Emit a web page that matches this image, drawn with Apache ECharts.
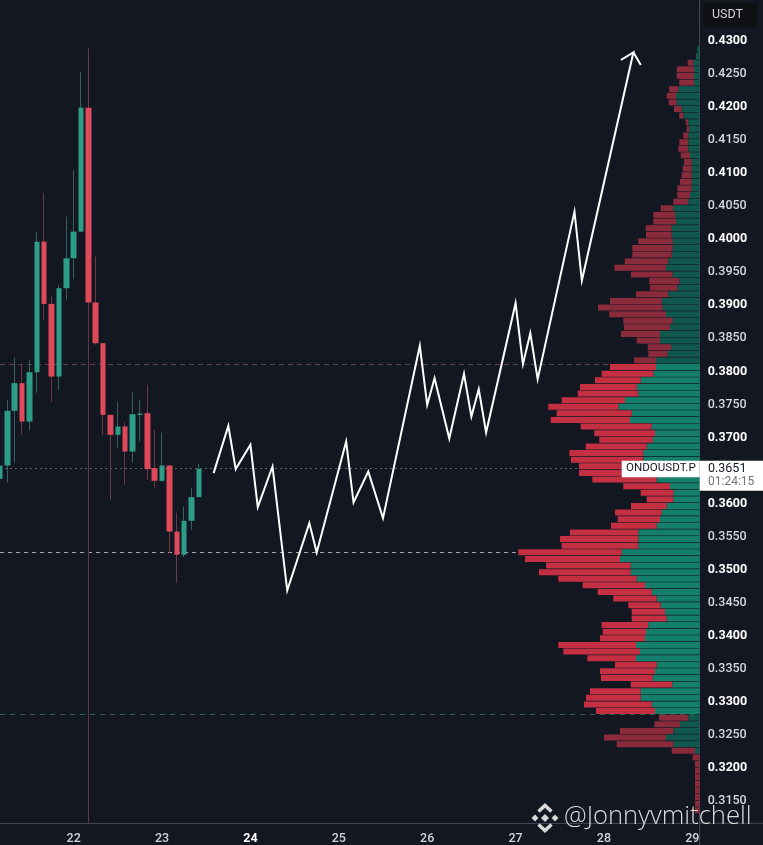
<!DOCTYPE html>
<html><head><meta charset="utf-8">
<style>html,body{margin:0;padding:0;background:#131722}#c{width:763px;height:845px}</style>
<script src="https://cdn.jsdelivr.net/npm/echarts@6/dist/echarts.min.js"></script>
</head><body><div id="c"></div>
<script>
// Candles, one per bar
const candleOpen  = [.36353,.36554,.37381,.37800,.37219,.37966,.39940,.38998,.37899,.39236,.39689,.40091,.41966,.39018,.38404,.37320,.37018,.37144,.36766,.37320,.37346,.36515,.36323,.36554,.35556,.35204,.35718,.36076];
const candleClose = [.36554,.37381,.37800,.37219,.37966,.39940,.38998,.37899,.39236,.39689,.40091,.41966,.39018,.38404,.37320,.37018,.37144,.36766,.37331,.37340,.36500,.36323,.36554,.35556,.35204,.35718,.36076,.36504];
const candleLow   = [.36217,.36292,.36595,.37018,.37083,.37653,.38757,.37522,.37698,.39059,.39376,.40087,.38950,.38380,.37018,.36036,.36822,.36262,.36595,.36917,.36338,.36217,.36312,.35234,.34781,.35170,.35582,.36076];
const candleHigh  = [.36610,.37547,.38182,.38076,.38152,.40087,.40672,.39109,.39286,.40318,.41024,.42510,.42864,.39714,.38404,.37320,.37522,.37204,.37658,.37547,.37774,.37094,.37053,.36554,.35839,.35934,.36217,.36580];
// Projected path (white arrow): bar position and price, ending with the arrow head
const arrowBars   = [29,31,32,34,35,37,39,42,43,47,48,50,52,57,58,59,61,63,64,65,66,70,71,72,73,78,79,86,84.3,86,87];
const arrowPrices = [.36439,.37154,.36500,.36867,.35925,.36539,.34664,.35683,.35239,.36917,.35995,.36463,.35759,.38364,.37472,.37875,.36962,.37940,.37295,.37709,.37053,.39009,.38087,.38556,.37860,.40394,.39351,.42803,.42687,.42803,.42611];
// Volume profile, top row to bottom row
const rowPrices = ['0.4285','0.4275','0.4265','0.4255','0.4245','0.4235','0.4225','0.4215','0.4205','0.4195','0.4185','0.4175','0.4165','0.4155','0.4145','0.4135','0.4125','0.4115','0.4105','0.4095','0.4085','0.4075','0.4065','0.4055','0.4045','0.4035','0.4025','0.4015','0.4005','0.3995','0.3985','0.3975','0.3965','0.3955','0.3945','0.3935','0.3925','0.3915','0.3905','0.3895','0.3885','0.3875','0.3865','0.3855','0.3845','0.3835','0.3825','0.3815','0.3805','0.3795','0.3785','0.3775','0.3765','0.3755','0.3745','0.3735','0.3725','0.3715','0.3705','0.3695','0.3685','0.3675','0.3665','0.3655','0.3645','0.3635','0.3625','0.3615','0.3605','0.3595','0.3585','0.3575','0.3565','0.3555','0.3545','0.3535','0.3525','0.3515','0.3505','0.3495','0.3485','0.3475','0.3465','0.3455','0.3445','0.3435','0.3425','0.3415','0.3405','0.3395','0.3385','0.3375','0.3365','0.3355','0.3345','0.3335','0.3325','0.3315','0.3305','0.3295','0.3285','0.3275','0.3265','0.3255','0.3245','0.3235','0.3225','0.3215','0.3205','0.3195','0.3185','0.3175','0.3165','0.3155','0.3145','0.3135'];
const buyVolume = [2.4,3.7,6.4,5.7,5.7,5.7,21.4,23.7,23,18,16.4,11.4,10.4,11.4,11.4,11.4,9.7,8,8,8,8,8,9.7,11.4,26.4,24.7,23.7,28,28,27,27,28,31.4,33.7,27,20.4,22.4,31.4,38,37,33.7,27,29.7,39.7,39.7,28.7,32.4,43.7,43.7,46.4,59,63,61.4,74.7,81.4,68,69.7,48,44.7,47,53,56.4,56.4,54.7,49.7,43,29.7,26.4,26.4,33,38,39.7,43,61.4,61.4,61.4,78,79.7,69,69,63,54.7,48,43,39,34.7,33,51.4,53.7,54.7,63.7,59.7,63.7,43,44.7,47,27.4,59,59,48,44.7,11.4,19.7,26.4,33.7,26.4,4.7,0,0,0,0,0,0,0,0,0];
const sellVolume = [0,0,5.6,17.3,17.3,14.7,9.3,9.3,8,7.7,4,2.6,2.6,5,9,10,9.3,7.7,9,10,11.7,14.4,12.7,15,12.6,21.7,22.7,26,25.7,34.4,40.4,39.4,43.6,51.7,41.7,30,27.3,32.3,51.7,64.7,56.7,49.4,46,39,23.3,23.3,19,22,46,51.6,45.7,56.7,60.6,63.3,70,75,79.3,71,60.7,53.4,61,74,72.3,66,71,64.4,46.7,32.6,26.6,35.7,46.7,42.3,45.7,68.3,78.3,76.6,103.4,95,84.7,91.7,78.4,62.3,54,43.4,32.4,33.3,35,46.6,43.3,45,77.7,76.7,48.7,41.7,55,51.7,41.6,50.7,54.7,67.7,59,29.3,25.7,53.3,62,56.6,23.3,7,4.7,4.7,4.7,4.7,4.7,4.7,4.7,4.7];
const valueAreaHigh = 0.3805, valueAreaLow = 0.3285;
// Horizontal levels
const levelPrices = [0.38085, 0.36510, 0.35245, 0.32786];
// Axes
const priceTicks = ['0.4300','0.4250','0.4200','0.4150','0.4100','0.4050','0.4000','0.3950','0.3900','0.3850','0.3800','0.3750','0.3700','0.3650','0.3600','0.3550','0.3500','0.3450','0.3400','0.3350','0.3300','0.3250','0.3200','0.3150'];
const dayBars = [10,22,34,46,58,70,82,94];
const dayNames = ['22','23','24','25','26','27','28','29'];

const barCount = 96;
const bars = Array.from({length: barCount}, (_, i) => String(i));
const wickData = candleOpen.map((o, i) => [o, candleClose[i], candleLow[i], candleHigh[i]]);
const bodyData = candleOpen.map((o, i) => {
  const c = candleClose[i];
  return [o, c, Math.min(o, c), Math.max(o, c)];
});
const RIGHT = 699.7, BOTTOM = 823.3;
const P_MIN = 0.43 - (BOTTOM - 39.3) / 6615, P_MAX = 0.43 + 39.3 / 6615;
const inVA = i => { const p = parseFloat(rowPrices[i]); return p <= valueAreaHigh && p >= valueAreaLow; };
const minorLabels = new Set(['0.4250','0.4150','0.4050','0.3950','0.3850','0.3750','0.3650','0.3550','0.3450','0.3350','0.3250','0.3150']);

const chart = echarts.init(document.getElementById('c'), null, {renderer: 'canvas'});
chart.setOption({
  animation: false,
  backgroundColor: '#131722',
  grid: [
    {left: 0, right: 763 - RIGHT, top: 0, height: BOTTOM, containLabel: false},
    {left: 0, right: 763 - RIGHT, top: 46.2, height: 767.4, containLabel: false}
  ],
  xAxis: [
    {type: 'category', gridIndex: 0, data: bars, boundaryGap: false,
      axisLine: {show: true, onZero: false, lineStyle: {color: '#434651', width: 1}},
      axisTick: {show: false}, splitLine: {show: false},
      axisLabel: {margin: 9, interval: i => dayBars.includes(i), hideOverlap: false,
        formatter: (v, i) => { const k = dayBars.indexOf(i); if (k < 0) return ''; return dayNames[k] === '24' ? '{b|24}' : '{n|' + dayNames[k] + '}'; },
        rich: {n: {color: '#d1d4dc', fontFamily: 'Roboto', fontSize: 12.5, fontWeight: 500},
               b: {color: '#ffffff', fontFamily: 'Roboto', fontSize: 12.5, fontWeight: 700}}}},
    {type: 'value', gridIndex: 0, min: 0, max: barCount - 1, show: false},
    {type: 'value', gridIndex: 1, min: 0, max: RIGHT, inverse: true, show: false}
  ],
  yAxis: [
    {type: 'value', gridIndex: 0, position: 'right', min: P_MIN, max: P_MAX, scale: true,
      axisLine: {show: true, onZero: false, lineStyle: {color: '#434651', width: 1}},
      axisTick: {show: false}, splitLine: {show: false},
      axisLabel: {margin: 8, customValues: priceTicks.map(Number),
        formatter: v => { const s = v.toFixed(4); return minorLabels.has(s) ? '{m|' + s + '}' : '{j|' + s + '}'; },
        rich: {m: {color: '#d6d8de', fontFamily: 'Roboto', fontSize: 12.5, fontWeight: 500, padding: [3, 0, 0, 0]},
               j: {color: '#ffffff', fontFamily: 'Roboto', fontSize: 12.5, fontWeight: 700, padding: [3, 0, 0, 0]}}}},
    {type: 'category', gridIndex: 1, data: rowPrices, inverse: true, show: false}
  ],
  series: [
    {type: 'bar', name: 'buy', xAxisIndex: 2, yAxisIndex: 1, stack: 'vp', data: buyVolume, barWidth: 6, z: 3,
      itemStyle: {color: p => inVA(p.dataIndex) ? '#14806c' : '#10584e'}},
    {type: 'bar', name: 'sell', xAxisIndex: 2, yAxisIndex: 1, stack: 'vp', data: sellVolume, barWidth: 6, z: 3,
      itemStyle: {color: p => inVA(p.dataIndex) ? '#c42f42' : '#8a2b3b'}},
    {type: 'candlestick', name: 'wicks', xAxisIndex: 0, yAxisIndex: 0, data: wickData, barWidth: 1, z: 4,
      itemStyle: {color: '#35605b', color0: '#6a3b47', borderColor: '#35605b', borderColor0: '#6a3b47', borderWidth: 1},
      markLine: {silent: true, symbol: 'none', z: 1, precision: 5, label: {show: false}, animation: false,
        data: [
          {yAxis: levelPrices[0], lineStyle: {type: [5, 4], color: '#5f4249', width: 1}},
          {yAxis: levelPrices[1], lineStyle: {type: [2, 3], color: '#5f6168', width: 1}},
          {yAxis: levelPrices[2], lineStyle: {type: [4, 4], color: '#a6a8ad', width: 1}},
          {yAxis: levelPrices[3], lineStyle: {type: [5, 5], color: '#2a5f58', width: 1}},
          [{coord: [12, candleHigh[12]], lineStyle: {type: 'solid', color: '#63383f', width: 1}}, {coord: [12, P_MIN]}]
        ]}},
    {type: 'candlestick', name: 'bodies', xAxisIndex: 0, yAxisIndex: 0, data: bodyData, barWidth: 6, z: 5,
      itemStyle: {color: '#2e9d88', color0: '#df4a5a', borderColor: '#2e9d88', borderColor0: '#df4a5a', borderWidth: 0}},
    {type: 'line', name: 'projection', xAxisIndex: 1, yAxisIndex: 0, z: 6, symbol: 'none', smooth: false,
      data: arrowBars.map((b, i) => [b, arrowPrices[i]]),
      lineStyle: {color: '#ffffff', width: 2, join: 'miter'}}
  ],
  graphic: [
    {type: 'line', shape: {x1: RIGHT, y1: BOTTOM, x2: RIGHT, y2: 845}, style: {stroke: '#434651', lineWidth: 1}, z: 9},
    {type: 'line', shape: {x1: RIGHT, y1: BOTTOM, x2: 763, y2: BOTTOM}, style: {stroke: '#434651', lineWidth: 1}, z: 9},
    // USDT chip
    {type: 'rect', shape: {x: 703, y: 3, width: 55, height: 24, r: 4}, style: {fill: '#0f1014'}, z: 20},
    {type: 'text', x: 712, y: 8, style: {text: 'USDT', fill: '#d1d4dc', font: '400 12.5px Roboto'}, z: 21},
    // Last price tags
    {type: 'rect', shape: {x: 621.7, y: 460.7, width: 78, height: 16.6}, style: {fill: '#ffffff'}, z: 20},
    {type: 'rect', shape: {x: 699.7, y: 460.7, width: 63.3, height: 30}, style: {fill: '#ffffff'}, z: 20},
    {type: 'text', x: 626, y: 462.5, style: {text: 'ONDOUSDT.P', fill: '#131722', font: '400 11.6px Roboto'}, z: 21},
    {type: 'text', x: 708, y: 462.5, style: {text: '0.3651', fill: '#131722', font: '400 12.5px Roboto'}, z: 21},
    {type: 'text', x: 708, y: 476, style: {text: '01:24:15', fill: '#6f737d', font: '400 12px Roboto'}, z: 21},
    // Watermark
    {type: 'polygon', shape: {points: [[545,814],[549,818],[545,822],[541,818]]}, style: {fill: '#d8d8d8'}, z: 30},
    {type: 'polygon', shape: {points: [[535,814.5],[538.5,818],[535,821.5],[531.5,818]]}, style: {fill: '#d8d8d8'}, z: 30},
    {type: 'polygon', shape: {points: [[555,814.5],[558.5,818],[555,821.5],[551.5,818]]}, style: {fill: '#d8d8d8'}, z: 30},
    {type: 'polyline', shape: {points: [[538.5,811.5],[545,805.5],[551.5,811.5]]}, style: {stroke: '#d8d8d8', lineWidth: 3.6, fill: 'none'}, z: 30},
    {type: 'polyline', shape: {points: [[538.5,824.5],[545,830.5],[551.5,824.5]]}, style: {stroke: '#d8d8d8', lineWidth: 3.6, fill: 'none'}, z: 30},
    {type: 'text', x: 564, y: 804, style: {text: '@Jonnyvmitchell', fill: '#d9d9d9', font: '300 25.6px "Open Sans"'}, z: 30}
  ]
});
</script>
</body></html>
